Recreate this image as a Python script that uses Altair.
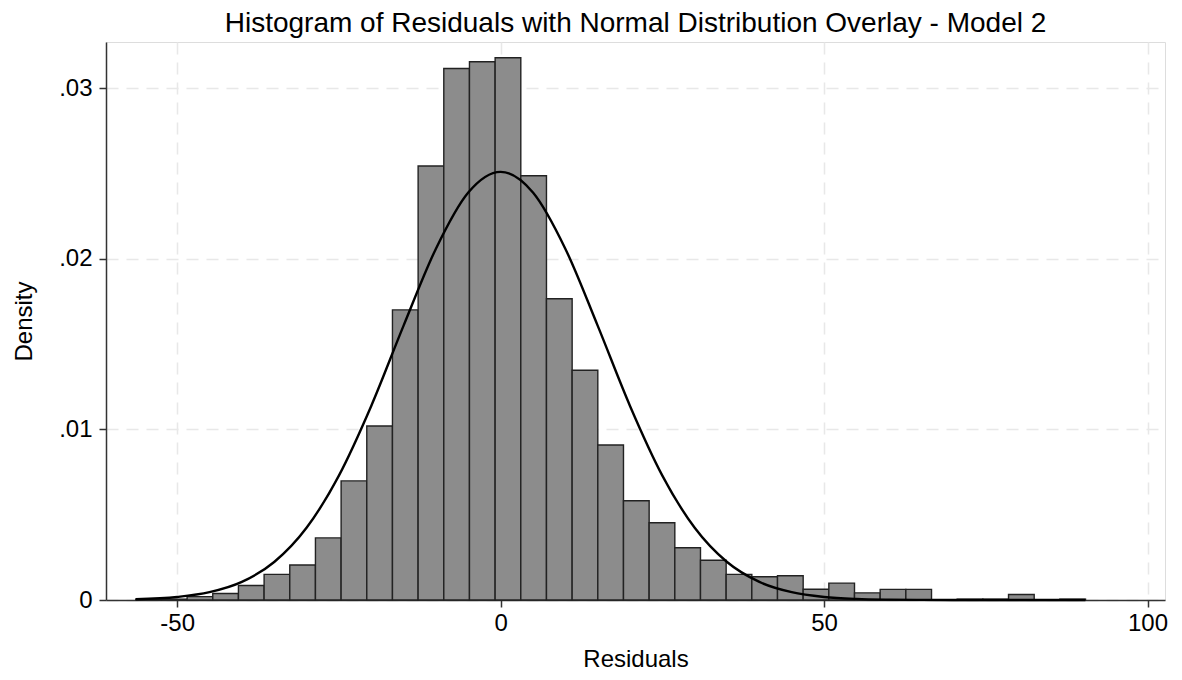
import altair as alt
import pandas as pd

# Histogram bins (Stata-style): start, width and densities
bin_start = -56.4
bin_width = 3.968
densities = [
    0.00005, 0.00005, 0.0002, 0.00038, 0.00085, 0.0015, 0.00205, 0.00364,
    0.00698, 0.0102, 0.0170, 0.02543, 0.03115, 0.03154, 0.03178, 0.02486,
    0.01765, 0.01346, 0.00908, 0.00582, 0.00453, 0.00306, 0.00233, 0.0015,
    0.00136, 0.00142, 0.00063, 0.00099, 0.00042, 0.00062, 0.00062, 0.0,
    0.00005, 0.00005, 0.00032, 0.0, 0.00005,
]

# Normal overlay, values
curve_x = [-56.4, -50, -45, -40, -35, -30, -25, -20, -15, -10, -5, 0,
           5, 10, 15, 20, 25, 30, 35, 40, 45, 50, 55, 60, 65, 70, 80, 90.4]
curve_y = [0.000047, 0.000179, 0.000457, 0.001059, 0.002225, 0.004231,
           0.007291, 0.011374, 0.016078, 0.020588, 0.023881, 0.025092,
           0.023881, 0.020588, 0.016078, 0.011374, 0.007291, 0.004231,
           0.002225, 0.001059, 0.000457, 0.000179, 0.000063, 0.00002,
           0.000006, 0.0000015, 0.0, 0.0]

x_ticks = [-50, 0, 50, 100]
y_ticks = [0, 0.01, 0.02, 0.03]

bars = pd.DataFrame({
    "lo": [bin_start + i * bin_width for i in range(len(densities))],
    "hi": [bin_start + (i + 1) * bin_width for i in range(len(densities))],
    "density": densities,
    "zero": [0.0] * len(densities),
})
curve = pd.DataFrame({"x": curve_x, "y": curve_y})

FONT = "Liberation Sans"
xscale = alt.Scale(domain=[-61.0, 102.7], nice=False, zero=False)
yscale = alt.Scale(domain=[0, 0.0327], nice=False)

xaxis = alt.Axis(values=x_ticks, title="Residuals", labelExpr="datum.value + ''",
                 grid=True, gridDash=[12, 8], gridColor="#e8e8e8", gridWidth=1.5,
                 domainColor="#333333", domainWidth=1.5, tickColor="#333333",
                 tickWidth=1.5, tickSize=7, labelFontSize=24, titleFontSize=24,
                 labelFont=FONT, titleFont=FONT, labelColor="black",
                 titleColor="black", titleFontWeight="normal", labelPadding=4,
                 titlePadding=12)
yaxis = alt.Axis(values=y_ticks, title="Density",
                 labelExpr="datum.value == 0 ? '0' : '.0' + round(datum.value * 100)",
                 grid=True, gridDash=[12, 8], gridColor="#e8e8e8", gridWidth=1.5,
                 domainColor="#333333", domainWidth=1.5, tickColor="#333333",
                 tickWidth=1.5, tickSize=7, labelFontSize=24, titleFontSize=24,
                 labelFont=FONT, titleFont=FONT, labelColor="black",
                 titleColor="black", titleFontWeight="normal", labelPadding=7,
                 titlePadding=22)

hist = alt.Chart(bars).mark_rect(fill="#8c8c8c", stroke="#222222", strokeWidth=1.4).encode(
    x=alt.X("lo:Q", scale=xscale, axis=xaxis),
    x2="hi:Q",
    y=alt.Y("density:Q", scale=yscale, axis=yaxis),
    y2="zero:Q",
)

line = alt.Chart(curve).mark_line(color="black", strokeWidth=2.4, interpolate="monotone").encode(
    x=alt.X("x:Q", scale=xscale),
    y=alt.Y("y:Q", scale=yscale),
)

chart = alt.layer(hist, line).properties(
    width=1059,
    height=558,
    title=alt.Title("Histogram of Residuals with Normal Distribution Overlay - Model 2",
                    fontSize=28, font=FONT, fontWeight="normal", color="black",
                    anchor="middle", offset=4),
    autosize=alt.AutoSizeParams(type="none"),
    padding={"left": 98, "top": 34, "right": 9, "bottom": 70},
).configure_view(stroke=None).configure(background="white")

chart.save("out.html", embed_options={"renderer": "svg", "actions": False})
